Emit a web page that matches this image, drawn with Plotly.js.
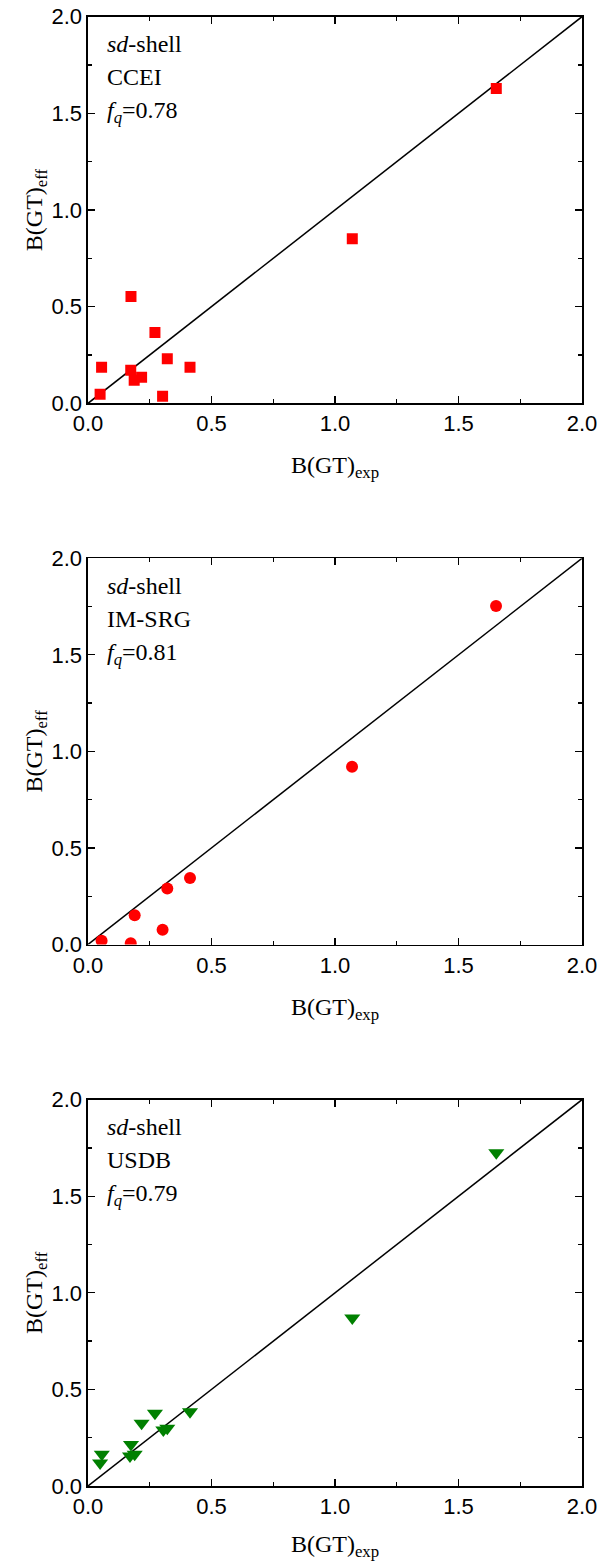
<!DOCTYPE html>
<html>
<head>
<meta charset="utf-8">
<script src="https://cdn.plot.ly/plotly-3.0.1.min.js"></script>
<style>html,body{margin:0;padding:0;background:#fff;}#chart{width:600px;height:1561px;}</style>
</head>
<body>
<div id="chart"></div>
<script>
// Panel 1: CCEI
const ccei_exp = [0.049, 0.055, 0.174, 0.173, 0.187, 0.217, 0.271, 0.302, 0.321, 0.413, 1.070, 1.653];
const ccei_eff = [0.047, 0.186, 0.552, 0.171, 0.119, 0.135, 0.366, 0.036, 0.231, 0.186, 0.851, 1.628];
// Panel 2: IM-SRG
const imsrg_exp = [0.055, 0.173, 0.189, 0.302, 0.321, 0.413, 1.069, 1.652];
const imsrg_eff = [0.019, 0.006, 0.152, 0.076, 0.290, 0.344, 0.920, 1.753];
// Panel 3: USDB
const usdb_exp = [0.049, 0.056, 0.174, 0.170, 0.189, 0.217, 0.271, 0.305, 0.321, 0.413, 1.070, 1.653];
const usdb_eff = [0.119, 0.164, 0.215, 0.155, 0.165, 0.325, 0.377, 0.290, 0.299, 0.385, 0.870, 1.725];
// Reference line y = x
const diag = [0, 2];
const panelNames = ["CCEI", "IM-SRG", "USDB"];
const fqValues = ["0.78", "0.81", "0.79"];
const tickVals = [0, 0.5, 1.0, 1.5, 2.0];
const tickText = ["0.0", "0.5", "1.0", "1.5", "2.0"];

const serif = "Liberation Serif, Times New Roman, serif";
const sans = "Liberation Sans, Arial, sans-serif";

const traces = [];
const sets = [
  {x: ccei_exp, y: ccei_eff, sym: "square", size: 11, color: "#ff0000"},
  {x: imsrg_exp, y: imsrg_eff, sym: "circle", size: 12, color: "#ff0000"},
  {x: usdb_exp, y: usdb_eff, sym: "triangle-down", size: 14, color: "#008000"}
];
sets.forEach((s, i) => {
  const xa = i === 0 ? "x" : "x" + (i + 1);
  const ya = i === 0 ? "y" : "y" + (i + 1);
  traces.push({x: diag, y: diag, xaxis: xa, yaxis: ya, mode: "lines",
    line: {color: "#000", width: 1.5}, showlegend: false, hoverinfo: "skip"});
  traces.push({x: s.x, y: s.y, xaxis: xa, yaxis: ya, mode: "markers",
    marker: {symbol: s.sym, size: s.size, color: s.color, line: {width: 0}}, showlegend: false});
});

const H = 1561;
const panels = [{top: 16.7, bot: 403.3}, {top: 558.3, bot: 944.5}, {top: 1099.7, bot: 1486}];

function xaxisDef(i) {
  return {
    domain: [0, 1], range: [0, 2], anchor: i === 0 ? "y" : "y" + (i + 1),
    tickmode: "array", tickvals: tickVals, ticktext: tickText,
    ticks: "inside", ticklen: 7, tickwidth: 1.3, tickcolor: "#000",
    minor: {ticks: "inside", ticklen: 4, tickwidth: 1.3, tickcolor: "#000", dtick: 0.25, showgrid: false},
    showline: true, linecolor: "#000", linewidth: 1.6, mirror: "allticks",
    showgrid: false, zeroline: false,
    tickfont: {family: sans, size: 22, color: "#000"},
    title: {text: "B(GT)<sub>exp</sub>", font: {family: serif, size: 24, color: "#000"}, standoff: 21}
  };
}
function yaxisDef(i) {
  const p = panels[i];
  return {
    domain: [1 - p.bot / H, 1 - p.top / H], range: [0, 2], anchor: i === 0 ? "x" : "x" + (i + 1),
    tickmode: "array", tickvals: tickVals, ticktext: tickText,
    ticks: "inside", ticklen: 7, tickwidth: 1.3, tickcolor: "#000",
    minor: {ticks: "inside", ticklen: 4, tickwidth: 1.3, tickcolor: "#000", dtick: 0.25, showgrid: false},
    showline: true, linecolor: "#000", linewidth: 1.6, mirror: "allticks",
    showgrid: false, zeroline: false,
    tickfont: {family: sans, size: 22, color: "#000"},
    title: {text: "B(GT)<sub>eff</sub>", font: {family: serif, size: 24, color: "#000"}, standoff: 1}
  };
}

const annotations = [];
panels.forEach((p, i) => {
  const xr = (i === 0 ? "x" : "x" + (i + 1)) + " domain";
  const yr = (i === 0 ? "y" : "y" + (i + 1)) + " domain";
  const h = p.bot - p.top;
  const lines = ["<i>sd</i>-shell", panelNames[i], "<i>f</i><sub><i>q</i></sub>=" + fqValues[i]];
  const centers = [44, 77, 112];
  lines.forEach((t, k) => {
    annotations.push({text: t, xref: xr, yref: yr, x: 0.035, y: 1 - (centers[k] - 16.7) / h,
      xanchor: "left", yanchor: "middle", showarrow: false,
      font: {family: serif, size: 24, color: "#000"}});
  });
});

const layout = {
  width: 600, height: H,
  margin: {l: 88, r: 18, t: 0, b: 0},
  paper_bgcolor: "#fff", plot_bgcolor: "#fff",
  showlegend: false,
  annotations: annotations,
  xaxis: xaxisDef(0), yaxis: yaxisDef(0),
  xaxis2: xaxisDef(1), yaxis2: yaxisDef(1),
  xaxis3: xaxisDef(2), yaxis3: yaxisDef(2)
};

Plotly.newPlot("chart", traces, layout, {displayModeBar: false, staticPlot: true});
</script>
</body>
</html>
